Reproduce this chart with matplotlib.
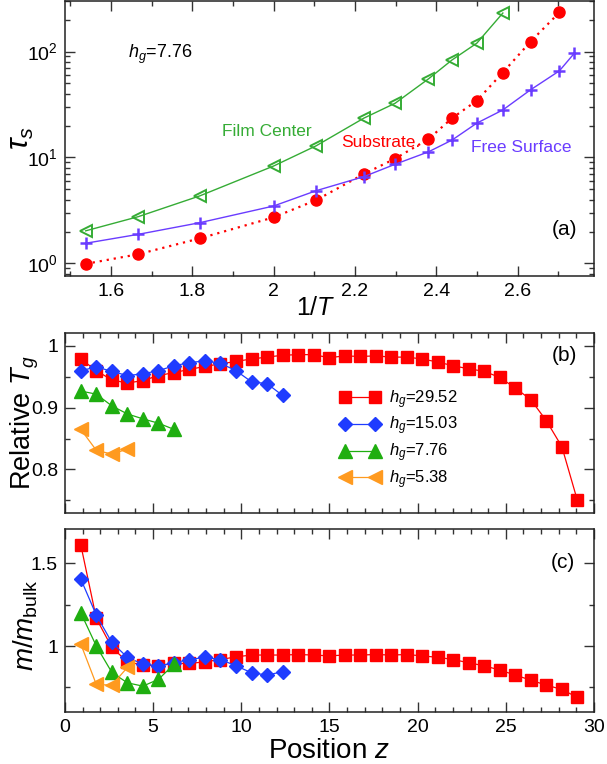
import matplotlib.pyplot as plt
from matplotlib.ticker import MultipleLocator, FuncFormatter, LogLocator

plt.rcParams['font.family'] = ['Liberation Sans', 'DejaVu Sans']
plt.rcParams['mathtext.fontset'] = 'custom'
plt.rcParams['mathtext.rm'] = 'Liberation Sans'
plt.rcParams['mathtext.it'] = 'Liberation Sans:italic'
plt.rcParams['mathtext.bf'] = 'Liberation Sans:bold'

# ---- panel (a): relaxation time vs 1/T ----
inv_T = [1.538, 1.667, 1.818, 2.0, 2.105, 2.222, 2.299, 2.381, 2.439,
         2.5, 2.564, 2.632, 2.703, 2.740]
tau_center = [2.03, 2.76, 4.33, 8.3, 12.9, 23.5, 32.5, 55.2, 83.3, 120, 231]
tau_substrate = [0.99, 1.22, 1.72, 2.72, 3.96, 6.98, 9.75, 14.9, 23.5,
                 34.4, 63.4, 124, 234]
tau_free = [1.55, 1.88, 2.42, 3.48, 4.86, 6.59, 8.63, 11.3, 14.6, 21.1,
            28.1, 43.5, 65.7, 96.6]

# ---- panels (b) and (c): profiles across the film ----
z = [0.90, 1.78, 2.66, 3.54, 4.42, 5.30, 6.18, 7.06, 7.94, 8.82, 9.70,
     10.58, 11.46, 12.34, 13.22, 14.10, 14.98, 15.86, 16.74, 17.62, 18.50,
     19.38, 20.26, 21.14, 22.02, 22.90, 23.78, 24.66, 25.54, 26.42, 27.30,
     28.18, 29.06]
labels = ['29.52', '15.03', '7.76', '5.38']

tg_2952 = [0.979, 0.960, 0.945, 0.940, 0.944, 0.952, 0.957, 0.962, 0.967,
           0.971, 0.975, 0.979, 0.982, 0.985, 0.986, 0.986, 0.981, 0.984,
           0.983, 0.984, 0.982, 0.982, 0.979, 0.974, 0.968, 0.963, 0.959,
           0.949, 0.932, 0.913, 0.879, 0.837, 0.750]
tg_1503 = [0.960, 0.966, 0.959, 0.952, 0.955, 0.960, 0.968, 0.973, 0.976,
           0.972, 0.960, 0.942, 0.939, 0.920]
tg_776 = [0.927, 0.922, 0.903, 0.890, 0.882, 0.875, 0.865]
tg_538 = [0.865, 0.831, 0.825, 0.833]

m_2952 = [1.611, 1.167, 0.992, 0.905, 0.885, 0.881, 0.895, 0.895, 0.905,
          0.919, 0.935, 0.946, 0.946, 0.946, 0.949, 0.946, 0.941, 0.946,
          0.946, 0.949, 0.946, 0.949, 0.941, 0.932, 0.919, 0.899, 0.881,
          0.855, 0.825, 0.794, 0.764, 0.738, 0.690]
m_1503 = [1.405, 1.187, 1.022, 0.932, 0.891, 0.881, 0.899, 0.919, 0.932,
          0.919, 0.881, 0.839, 0.825, 0.845]
m_776 = [1.201, 1.000, 0.841, 0.778, 0.758, 0.799, 0.889]
m_538 = [1.012, 0.768, 0.764, 0.871]

RED = '#ff0000'
BLUE = '#1f3cff'
GREEN = '#1fae10'
ORANGE = '#ff9a1f'
A_GREEN = '#35ac35'
A_PURPLE = '#6a3cff'

styles = [
    dict(marker='s', color=RED, ms=8.5),
    dict(marker='D', color=BLUE, ms=7),
    dict(marker='^', color=GREEN, ms=10),
    dict(marker='<', color=ORANGE, ms=10),
]


def fmt_g(v, pos):
    return '%g' % round(v, 6)


def style_axes(ax):
    ax.tick_params(which='both', direction='in', top=True, right=True,
                   width=1, color='#333333', labelsize=14)
    ax.tick_params(which='major', length=7, pad=5)
    ax.tick_params(which='minor', length=3.5)
    for sp in ax.spines.values():
        sp.set_linewidth(1.1)
        sp.set_color('#222222')


fig = plt.figure(figsize=(6.07, 7.64), dpi=100)

# panel (a)
ax1 = fig.add_axes([0.107, 0.6387, 0.8715, 0.3600])
ax1.plot(inv_T[:len(tau_center)], tau_center, '-', marker='<', color=A_GREEN,
         mfc='none', mec=A_GREEN, ms=8, mew=1.4, lw=1.0)
ax1.plot(inv_T[:len(tau_substrate)], tau_substrate, linestyle=(0, (1, 2.2)),
         marker='o', color=RED, ms=8, lw=1.6)
ax1.plot(inv_T, tau_free, '-', marker='+', color=A_PURPLE, ms=9, mew=1.8,
         lw=1.0)
ax1.set_yscale('log')
ax1.set_xlim(1.487, 2.788)
ax1.set_ylim(0.76, 300)
ax1.xaxis.set_major_locator(MultipleLocator(0.2))
ax1.xaxis.set_minor_locator(MultipleLocator(0.1))
ax1.xaxis.set_major_formatter(FuncFormatter(fmt_g))
ax1.yaxis.set_minor_locator(LogLocator(base=10, subs=range(2, 10)))
style_axes(ax1)
ax1.set_xlabel(r'$1/T$', fontsize=18, va='center')
ax1.xaxis.set_label_coords(0.4745, -0.116)
ax1.set_ylabel(r'$\tau_s$', fontsize=22, va='center')
ax1.yaxis.set_label_coords(-0.083, 0.5)
ax1.text(1.642, 93, r'$h_g$=7.76', fontsize=13, ha='left', va='center')
ax1.text(1.983, 17.4, 'Film Center', color=A_GREEN, fontsize=12.5,
         ha='center', va='center')
ax1.text(2.263, 13.7, 'Substrate.', color=RED, fontsize=12.5,
         ha='center', va='center')
ax1.text(2.61, 12.3, 'Free Surface', color=A_PURPLE, fontsize=12.5,
         ha='center', va='center')
ax1.text(0.944, 0.171, '(a)', transform=ax1.transAxes, fontsize=15,
         ha='center', va='center')

# panel (b)
ax2 = fig.add_axes([0.107, 0.3289, 0.8715, 0.2348])
for vals, st, lab in zip([tg_2952, tg_1503, tg_776, tg_538], styles, labels):
    ax2.plot(z[:len(vals)], vals, '-', marker=st['marker'], color=st['color'],
             mfc=st['color'], mec=st['color'], ms=st['ms'], lw=0.9,
             label=r'$h_g$=' + lab)
ax2.set_xlim(0, 30)
ax2.set_ylim(0.73, 1.0205)
ax2.xaxis.set_major_locator(MultipleLocator(5))
ax2.xaxis.set_minor_locator(MultipleLocator(1))
ax2.yaxis.set_major_locator(MultipleLocator(0.1))
ax2.yaxis.set_minor_locator(MultipleLocator(0.05))
ax2.yaxis.set_major_formatter(FuncFormatter(fmt_g))
ax2.tick_params(labelbottom=False)
style_axes(ax2)
ax2.set_ylabel(r'Relative $T_g$', fontsize=19.5, va='center')
ax2.yaxis.set_label_coords(-0.076, 0.5)
ax2.text(0.944, 0.879, '(b)', transform=ax2.transAxes, fontsize=15,
         ha='center', va='center')
ax2.legend(loc='upper left', bbox_to_anchor=(0.505, 0.742), frameon=False,
           numpoints=2, handlelength=2.4, handletextpad=0.5,
           labelspacing=0.25, borderpad=0, fontsize=12)

# panel (c)
ax3 = fig.add_axes([0.107, 0.0677, 0.8715, 0.2395])
for vals, st in zip([m_2952, m_1503, m_776, m_538], styles):
    ax3.plot(z[:len(vals)], vals, '-', marker=st['marker'], color=st['color'],
             mfc=st['color'], mec=st['color'], ms=st['ms'], lw=0.9)
ax3.set_xlim(0, 30)
ax3.set_ylim(0.6, 1.706)
ax3.xaxis.set_major_locator(MultipleLocator(5))
ax3.xaxis.set_minor_locator(MultipleLocator(1))
ax3.yaxis.set_major_locator(MultipleLocator(0.5))
ax3.yaxis.set_minor_locator(MultipleLocator(0.25))
ax3.yaxis.set_major_formatter(FuncFormatter(fmt_g))
style_axes(ax3)
ax3.set_xlabel(r'Position $z$', fontsize=20, labelpad=1)
ax3.set_ylabel(r'$m/m_{\rm bulk}$', fontsize=20, va='center')
ax3.yaxis.set_label_coords(-0.074, 0.477)
ax3.text(0.942, 0.817, '(c)', transform=ax3.transAxes, fontsize=15,
         ha='center', va='center')

fig.savefig('out.png', dpi=100)
